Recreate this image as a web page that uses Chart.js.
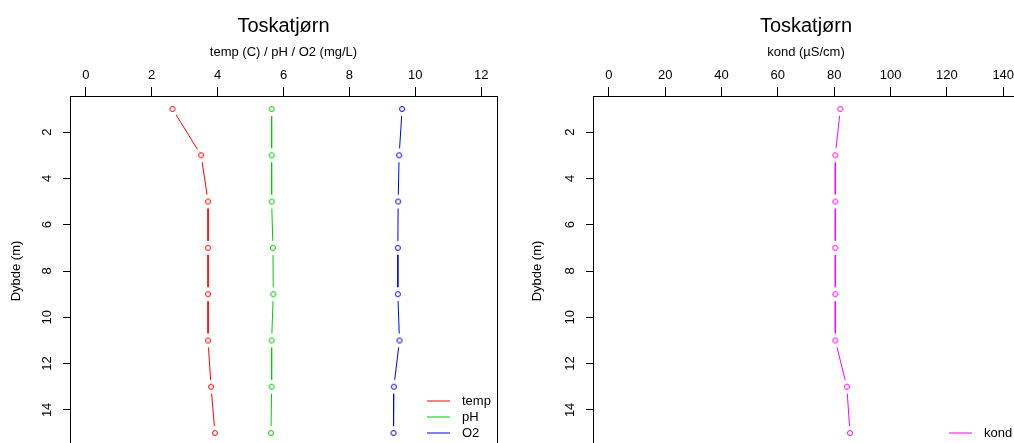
<!DOCTYPE html>
<html>
<head>
<meta charset="utf-8">
<script src="https://cdn.jsdelivr.net/npm/chart.js@4"></script>
<style>
  html, body { margin: 0; padding: 0; background: #fff; }
  #wrap { position: relative; width: 1014px; height: 443px; overflow: hidden; }
  canvas { position: absolute; top: 0; }
</style>
</head>
<body>
<div id="wrap">
  <canvas id="left" width="507" height="460" style="left:0"></canvas>
  <canvas id="right" width="540" height="460" style="left:507px"></canvas>
</div>
<script>
// depth in metres
const depth = [1, 3, 5, 7, 9, 11, 13, 15];
const temp = [2.63, 3.50, 3.71, 3.71, 3.71, 3.71, 3.80, 3.92];
const pH = [5.64, 5.64, 5.64, 5.68, 5.69, 5.64, 5.64, 5.62];
const O2 = [9.60, 9.51, 9.48, 9.47, 9.47, 9.52, 9.35, 9.34];
const kond = [82.2, 80.4, 80.4, 80.4, 80.4, 80.4, 84.5, 85.6];

const depthTicks = [2, 4, 6, 8, 10, 12, 14];
const leftTicks = [0, 2, 4, 6, 8, 10, 12];
const rightTicks = [0, 20, 40, 60, 80, 100, 120, 140];

Chart.defaults.font.family = "'Liberation Sans', Arial, sans-serif";
Chart.defaults.font.size = 13;
Chart.defaults.color = '#000';

// open circle with a white halo, so the line stops short of the point (R type="b")
function ringImage(color) {
  const c = document.createElement('canvas');
  c.width = 18;
  c.height = 18;
  const g = c.getContext('2d');
  g.fillStyle = '#fff';
  g.beginPath();
  g.arc(9, 9, 7, 0, Math.PI * 2);
  g.fill();
  g.strokeStyle = color;
  g.lineWidth = 1;
  g.beginPath();
  g.arc(9, 9, 2.5, 0, Math.PI * 2);
  g.stroke();
  return c;
}

function series(label, xs, color) {
  return {
    label: label,
    data: depth.map((d, i) => ({ x: xs[i], y: d })),
    borderColor: color,
    backgroundColor: color,
    borderWidth: 1,
    showLine: true,
    tension: 0,
    pointStyle: ringImage(color),
    pointRadius: 3
  };
}

// box, rotated depth labels and an R-style legend in the bottom right corner
const rPlot = {
  id: 'rPlot',
  afterDraw(chart) {
    const { ctx, chartArea: a } = chart;
    const y = chart.scales.y;
    ctx.save();
    ctx.strokeStyle = '#000';
    ctx.lineWidth = 1;
    ctx.strokeRect(Math.round(a.left) + 0.5, Math.round(a.top) + 0.5,
      Math.round(a.right - a.left), Math.round(a.bottom - a.top));

    ctx.fillStyle = '#000';
    ctx.font = "13px 'Liberation Sans', Arial, sans-serif";
    ctx.textAlign = 'center';
    ctx.textBaseline = 'middle';
    y.ticks.forEach(t => {
      ctx.save();
      ctx.translate(a.left - 23, y.getPixelForValue(t.value));
      ctx.rotate(-Math.PI / 2);
      ctx.fillText(String(t.value), 0, 0);
      ctx.restore();
    });

    const sets = chart.data.datasets;
    ctx.textAlign = 'left';
    sets.forEach((ds, i) => {
      const yy = Math.round(a.bottom - 13 - (sets.length - 1 - i) * 16);
      ctx.strokeStyle = ds.borderColor;
      ctx.beginPath();
      ctx.moveTo(a.right - 70, yy);
      ctx.lineTo(a.right - 47, yy);
      ctx.stroke();
      ctx.fillText(ds.label, a.right - 35, yy + 0.5);
    });
    ctx.restore();
  }
};

function makeChart(id, datasets, xTicks, xMin, xMax, xTitle, yWidth, yTitlePad, padRight) {
  return new Chart(document.getElementById(id), {
    type: 'scatter',
    data: { datasets: datasets },
    options: {
      responsive: false,
      animation: false,
      events: [],
      layout: { padding: { top: 0, bottom: 14, left: 0, right: padRight } },
      plugins: {
        legend: { display: false },
        tooltip: { enabled: false },
        title: {
          display: true,
          text: 'Toskatjørn',
          fullSize: false,
          color: '#000',
          font: { size: 20, weight: 'normal' },
          padding: { top: 14, bottom: 0 }
        }
      },
      scales: {
        x: {
          type: 'linear',
          position: 'top',
          min: xMin,
          max: xMax,
          afterBuildTicks: s => { s.ticks = xTicks.map(v => ({ value: v })); },
          afterFit: s => { s.height = 58; },
          grid: { drawOnChartArea: false, drawTicks: true, tickLength: 9, color: '#000' },
          border: { display: false },
          ticks: { padding: 4, maxRotation: 0, autoSkip: false, color: '#000' },
          title: { display: true, text: xTitle, color: '#000', padding: { top: 7, bottom: 0 } }
        },
        y: {
          type: 'linear',
          reverse: true,
          min: 0.44,
          max: 15.56,
          afterBuildTicks: s => { s.ticks = depthTicks.map(v => ({ value: v })); },
          afterFit: s => { s.width = yWidth; },
          grid: { drawOnChartArea: false, drawTicks: true, tickLength: 7, color: '#000' },
          border: { display: false },
          ticks: { display: false },
          title: { display: true, text: 'Dybde (m)', color: '#000', padding: { top: yTitlePad, bottom: 0 } }
        }
      }
    },
    plugins: [rPlot]
  });
}

makeChart('left', [
  series('temp', temp, '#ff0000'),
  series('pH', pH, '#00cd00'),
  series('O2', O2, '#0000ff')
], leftTicks, -0.48, 12.48, 'temp (C) / pH / O2 (mg/L)', 70, 9, 10);

makeChart('right', [
  series('kond', kond, '#ff00ff')
], rightTicks, -5.6, 145.6, 'kond (µS/cm)', 86, 23, 28);
</script>
</body>
</html>
